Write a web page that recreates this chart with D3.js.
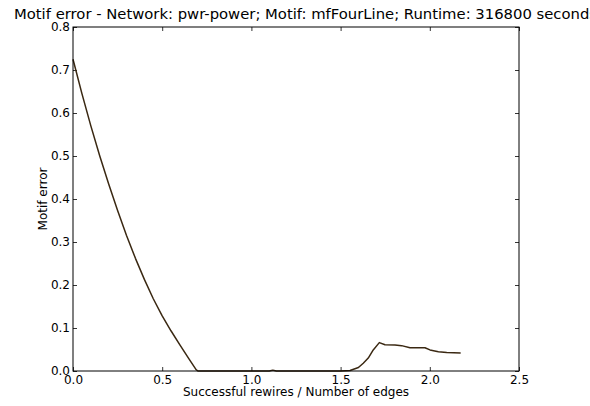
<!DOCTYPE html>
<html>
<head>
<meta charset="utf-8">
<script src="https://cdn.jsdelivr.net/npm/d3@7"></script>
<style>
  html, body { margin: 0; padding: 0; background: #fff; overflow: hidden; }
  svg { display: block; font-family: "DejaVu Sans", sans-serif; }
</style>
</head>
<body>
<svg id="chart" width="590" height="406"></svg>
<script>
// Motif error as a function of successful rewires per edge
const rewires = [0.000, 0.050, 0.100, 0.150, 0.200, 0.250, 0.300, 0.350, 0.400, 0.450,
                 0.500, 0.550, 0.600, 0.650, 0.690, 0.700, 0.900, 1.100, 1.120, 1.140,
                 1.300, 1.500, 1.553, 1.600, 1.627, 1.655, 1.683, 1.717, 1.749, 1.805,
                 1.842, 1.889, 1.973, 2.001, 2.048, 2.095, 2.173];
const motifError = [0.725, 0.645, 0.570, 0.500, 0.435, 0.373, 0.315, 0.262, 0.213, 0.168,
                    0.128, 0.093, 0.060, 0.028, 0.003, 0.000, 0.000, 0.000, 0.002, 0.000,
                    0.000, 0.000, 0.001, 0.008, 0.018, 0.030, 0.049, 0.066, 0.061, 0.0605,
                    0.059, 0.054, 0.054, 0.049, 0.045, 0.043, 0.042];

const xTicks = [0.0, 0.5, 1.0, 1.5, 2.0, 2.5];
const yTicks = [0.0, 0.1, 0.2, 0.3, 0.4, 0.5, 0.6, 0.7, 0.8];

const titleText = "Motif error - Network: pwr-power; Motif: mfFourLine; Runtime: 316800 seconds";
const xLabel = "Successful rewires / Number of edges";
const yLabel = "Motif error";

const svg = d3.select("#chart");
const plot = { left: 73, right: 519, top: 27, bottom: 371 };

const x = d3.scaleLinear().domain([0, 2.5]).range([plot.left, plot.right]);
const y = d3.scaleLinear().domain([0, 0.8]).range([plot.bottom, plot.top]);

const tickLen = 4;
const fmt = d3.format(".1f");

// Axes with inward ticks on all four sides
function styleAxis(g) {
  g.select(".domain").remove();
  g.selectAll(".tick line").attr("stroke", "#000").attr("stroke-width", 0.8);
  g.selectAll(".tick text").attr("fill", "#000").attr("font-size", 12)
    .attr("font-family", "DejaVu Sans, sans-serif");
}

svg.append("g").attr("transform", `translate(0,${plot.bottom})`)
  .call(d3.axisBottom(x).tickValues(xTicks).tickFormat(fmt).tickSizeInner(-tickLen).tickSizeOuter(0).tickPadding(4))
  .call(styleAxis);

svg.append("g").attr("transform", `translate(0,${plot.top})`)
  .call(d3.axisTop(x).tickValues(xTicks).tickFormat("").tickSizeInner(-tickLen).tickSizeOuter(0))
  .call(styleAxis);

svg.append("g").attr("transform", `translate(${plot.left},0)`)
  .call(d3.axisLeft(y).tickValues(yTicks).tickFormat(fmt).tickSizeInner(-tickLen).tickSizeOuter(0).tickPadding(3))
  .call(styleAxis);

svg.append("g").attr("transform", `translate(${plot.right},0)`)
  .call(d3.axisRight(y).tickValues(yTicks).tickFormat("").tickSizeInner(-tickLen).tickSizeOuter(0))
  .call(styleAxis);

// Data line
const line = d3.line().x((d, i) => x(rewires[i])).y(d => y(d));
svg.append("path")
  .datum(motifError)
  .attr("fill", "none")
  .attr("stroke", "#3a2812")
  .attr("stroke-width", 1.5)
  .attr("stroke-linejoin", "round")
  .attr("d", line);

// Frame
svg.append("rect")
  .attr("x", plot.left).attr("y", plot.top)
  .attr("width", plot.right - plot.left).attr("height", plot.bottom - plot.top)
  .attr("fill", "none").attr("stroke", "#000").attr("stroke-width", 1);

// Title (runs past the right edge of the figure) and axis labels
svg.append("text")
  .attr("x", 14).attr("y", 19)
  .attr("text-anchor", "start").attr("font-size", 14.8)
  .text(titleText);

svg.append("text")
  .attr("x", (plot.left + plot.right) / 2).attr("y", 396)
  .attr("text-anchor", "middle").attr("font-size", 12)
  .text(xLabel);

svg.append("text")
  .attr("transform", `translate(47,${(plot.top + plot.bottom) / 2}) rotate(-90)`)
  .attr("text-anchor", "middle").attr("font-size", 12)
  .text(yLabel);
</script>
</body>
</html>
